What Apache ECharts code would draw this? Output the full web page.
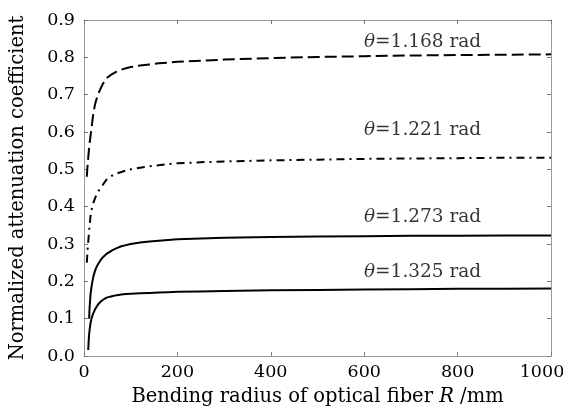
<!DOCTYPE html>
<html>
<head>
<meta charset="utf-8">
<script src="https://cdn.jsdelivr.net/npm/echarts@6/dist/echarts.min.js"></script>
<style>html,body{margin:0;padding:0;background:#fff;}#c{width:563px;height:407px;}</style>
</head>
<body>
<div id="c"></div>
<script>
// Bending radius R (mm)
var radius = [6, 7, 8, 9, 10, 11, 12, 14, 16, 18, 20, 23, 26, 30, 35, 40, 45, 50, 60, 70, 80, 90, 100, 120, 140, 160, 180, 200, 250, 300, 400, 500, 600, 700, 800, 900, 1000];
var theta1168 = [0.48, 0.50, 0.515, 0.53, 0.545, 0.558, 0.57, 0.59, 0.61, 0.63, 0.65, 0.67, 0.685, 0.70, 0.715, 0.728, 0.738, 0.746, 0.755, 0.762, 0.767, 0.771, 0.774, 0.778, 0.781, 0.784, 0.786, 0.788, 0.791, 0.794, 0.798, 0.801, 0.803, 0.805, 0.806, 0.807, 0.808];
var theta1221 = [0.25, 0.27, 0.29, 0.305, 0.32, 0.335, 0.35, 0.375, 0.39, 0.40, 0.41, 0.42, 0.43, 0.44, 0.45, 0.458, 0.467, 0.475, 0.483, 0.489, 0.493, 0.497, 0.50, 0.504, 0.508, 0.511, 0.514, 0.516, 0.519, 0.521, 0.524, 0.526, 0.528, 0.529, 0.530, 0.531, 0.531];
var theta1273 = [null, null, null, null, null, 0.10, 0.13, 0.165, 0.185, 0.20, 0.212, 0.226, 0.236, 0.246, 0.256, 0.264, 0.27, 0.275, 0.283, 0.289, 0.294, 0.297, 0.30, 0.304, 0.307, 0.309, 0.311, 0.313, 0.315, 0.317, 0.319, 0.32, 0.321, 0.322, 0.322, 0.323, 0.323];
var theta1325 = [null, null, null, 0.016, 0.04, 0.058, 0.07, 0.088, 0.10, 0.108, 0.115, 0.123, 0.13, 0.138, 0.145, 0.15, 0.154, 0.157, 0.16, 0.163, 0.165, 0.166, 0.167, 0.168, 0.169, 0.17, 0.171, 0.172, 0.173, 0.174, 0.176, 0.177, 0.178, 0.179, 0.18, 0.18, 0.181];
var labelValues = ['1.168', '1.221', '1.273', '1.325'];
var labelX = 725;
var labelY = [0.841, 0.605, 0.372, 0.225];

var font = 'DejaVu Serif';
function pairs(ys) { return radius.map(function (r, i) { return [r, ys[i]]; }); }

var chart = echarts.init(document.getElementById('c'));
var axisCommon = {
  axisLine: { show: true, onZero: false, lineStyle: { color: '#999', width: 1 } },
  axisTick: { show: true, inside: true, length: 4, lineStyle: { color: '#777' } },
  splitLine: { show: false }
};
var types = [[12, 5], [8, 5, 2, 5], 'solid', 'solid'];
var series = [theta1168, theta1221, theta1273, theta1325].map(function (ys, i) {
  return {
    type: 'line', data: pairs(ys), showSymbol: false, symbol: 'none',
    smooth: false, connectNulls: false,
    lineStyle: { color: '#000', width: 2, type: types[i] },
    z: 3
  };
});
series.push({
  type: 'scatter', symbolSize: 0, silent: true,
  data: labelValues.map(function (t, i) { return { value: [labelX, labelY[i]], name: t }; }),
  label: {
    show: true, position: 'inside',
    formatter: function (p) { return '{i|θ}{n|=' + p.name + ' rad}'; },
    rich: {
      i: { fontFamily: font, fontStyle: 'italic', fontSize: 18.5, color: '#000' },
      n: { fontFamily: font, fontSize: 18.5, color: '#000' }
    }
  },
  z: 5
});
chart.setOption({
  animation: false,
  backgroundColor: '#fff',
  grid: { left: 84, right: 12, top: 20, bottom: 51, containLabel: false, outerBoundsMode: 'none' },
  xAxis: [
    Object.assign({}, axisCommon, {
      type: 'value', min: 0, max: 1000, interval: 200, position: 'bottom',
      name: '{n|Bending radius of optical fiber }{i|R}{n| /mm}', nameLocation: 'middle', nameGap: 31,
      nameTextStyle: { fontFamily: font, fontSize: 19.5, color: '#000',
        rich: {
          n: { fontFamily: font, fontSize: 19.5, color: '#000' },
          i: { fontFamily: font, fontSize: 19.5, fontStyle: 'italic', color: '#000' }
        } },
      axisLabel: { fontFamily: font, fontSize: 17.5, color: '#000', margin: 7,
                   formatter: function (v) { return v === 1000 ? '{m|1000}' : String(v); },
                   rich: { m: { fontFamily: font, fontSize: 17.5, color: '#000', padding: [0, 18, 0, 0] } } }
    }),
    Object.assign({}, axisCommon, {
      type: 'value', min: 0, max: 1000, interval: 200, position: 'top',
      axisLabel: { show: false }
    })
  ],
  yAxis: [
    Object.assign({}, axisCommon, {
      type: 'value', min: 0, max: 0.9, interval: 0.1, position: 'left',
      name: 'Normalized attenuation coefficient', nameLocation: 'middle', nameGap: 56,
      nameTextStyle: { fontFamily: font, fontSize: 19.5, color: '#000' },
      axisLabel: { fontFamily: font, fontSize: 17.5, color: '#000', margin: 9,
                   formatter: function (v) { return v.toFixed(1); } }
    }),
    Object.assign({}, axisCommon, {
      type: 'value', min: 0, max: 0.9, interval: 0.1, position: 'right',
      axisLabel: { show: false }
    })
  ],
  series: series
});
</script>
</body>
</html>
